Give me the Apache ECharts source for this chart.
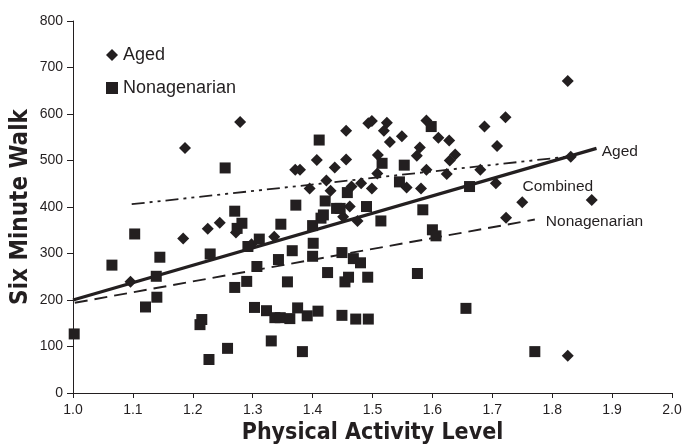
<!DOCTYPE html>
<html>
<head>
<meta charset="utf-8">
<script src="https://cdn.jsdelivr.net/npm/echarts@6/dist/echarts.min.js"></script>
<style>
  html, body { margin: 0; padding: 0; background: #fff; }
  #chart { width: 683px; height: 445px; }
</style>
</head>
<body>
<div id="chart"></div>
<script>
// Aged subjects [PAL, six minute walk (m)]
var aged = [
  [1.096, 239], [1.184, 332], [1.187, 527], [1.225, 353], [1.245, 366],
  [1.272, 345], [1.279, 583], [1.298, 320], [1.336, 336], [1.371, 480],
  [1.379, 480], [1.395, 440], [1.407, 501], [1.423, 457], [1.430, 435],
  [1.437, 485], [1.451, 379], [1.456, 502], [1.456, 564], [1.462, 401],
  [1.465, 444], [1.475, 370], [1.481, 451], [1.493, 580], [1.499, 585],
  [1.499, 440], [1.508, 472], [1.509, 512], [1.519, 564], [1.524, 581],
  [1.529, 540], [1.549, 552], [1.557, 442], [1.574, 510], [1.579, 528],
  [1.581, 440], [1.590, 480], [1.590, 586], [1.610, 549], [1.624, 471],
  [1.628, 543], [1.629, 500], [1.638, 513], [1.680, 480], [1.687, 573],
  [1.706, 451], [1.708, 531], [1.722, 593], [1.723, 377], [1.750, 410],
  [1.826, 671], [1.826, 80], [1.831, 508], [1.866, 415]
];

// Nonagenarian subjects
var nonagenarian = [
  [1.002, 127], [1.065, 275], [1.103, 342], [1.121, 185], [1.139, 251],
  [1.140, 206], [1.145, 292], [1.212, 147], [1.215, 158], [1.227, 72],
  [1.229, 299], [1.254, 484], [1.258, 96], [1.270, 391], [1.270, 227],
  [1.274, 354], [1.282, 365], [1.290, 240], [1.292, 315], [1.303, 184],
  [1.307, 272], [1.311, 331], [1.323, 177], [1.331, 112], [1.337, 162],
  [1.343, 287], [1.346, 162], [1.347, 363], [1.358, 239], [1.362, 160],
  [1.366, 306], [1.372, 404], [1.375, 183], [1.383, 89], [1.391, 166],
  [1.400, 360], [1.400, 294], [1.401, 322], [1.409, 176], [1.411, 544],
  [1.414, 376], [1.418, 383], [1.421, 413], [1.425, 259], [1.440, 397],
  [1.446, 397], [1.449, 302], [1.449, 167], [1.454, 239], [1.458, 431],
  [1.460, 249], [1.468, 289], [1.472, 159], [1.480, 280], [1.490, 401],
  [1.492, 249], [1.493, 159], [1.514, 370], [1.516, 494], [1.545, 454],
  [1.553, 490], [1.575, 257], [1.584, 394], [1.598, 573], [1.600, 351],
  [1.606, 338], [1.656, 182], [1.662, 444], [1.771, 89]
];

// regression lines (start / end)
var agedFit = [[1.098, 406], [1.831, 509]];
var combinedFit = [[1.0, 200], [1.874, 526]];
var nonagenarianFit = [[1.003, 194], [1.771, 373]];

var xTicks = ['1.0', '1.1', '1.2', '1.3', '1.4', '1.5', '1.6', '1.7', '1.8', '1.9', '2.0'];

var ink = '#231f20';
var font = '"Liberation Sans", Arial, sans-serif';
var titleFont = '"DejaVu Sans Condensed", "Liberation Sans Narrow", sans-serif';

var myChart = echarts.init(document.getElementById('chart'));

var option = {
    animation: false,
    textStyle: { fontFamily: font, color: ink },
    grid: { left: 73, right: 11, top: 21, bottom: 52, outerBoundsMode: 'none', containLabel: false },
    legend: {
        data: [
            { name: 'Aged', icon: 'diamond' },
            { name: 'Nonagenarian', icon: 'rect' }
        ],
        orient: 'vertical',
        left: 101,
        top: 41,
        itemWidth: 12,
        itemHeight: 12,
        itemGap: 15,
        textStyle: { fontSize: 18, color: ink, fontFamily: font }
    },
    xAxis: {
        type: 'value',
        min: 1.0,
        max: 2.0,
        interval: 0.1,
        name: 'Physical Activity Level',
        nameLocation: 'middle',
        nameGap: 25,
        nameTextStyle: { fontSize: 23, fontWeight: 'bold', color: ink, fontFamily: titleFont },
        axisLine: { lineStyle: { color: ink, width: 1 } },
        axisTick: { show: true, length: 5, lineStyle: { color: ink } },
        axisLabel: {
            fontSize: 14, color: ink, margin: 10,
            formatter: function (v) { return xTicks[Math.round((v - 1) * 10)]; }
        },
        splitLine: { show: false }
    },
    yAxis: {
        type: 'value',
        min: 0,
        max: 800,
        interval: 100,
        name: 'Six Minute Walk',
        nameLocation: 'middle',
        nameGap: 40,
        nameMoveOverlap: false,
        nameTextStyle: { fontSize: 24, fontWeight: 'bold', color: ink, fontFamily: titleFont },
        axisLine: { show: true, lineStyle: { color: ink, width: 1 } },
        axisTick: { show: true, length: 6, lineStyle: { color: ink } },
        axisLabel: { fontSize: 14, color: ink, margin: 10 },
        splitLine: { show: false }
    },
    series: [
        {
            name: 'Aged fit',
            type: 'line',
            data: agedFit,
            symbol: 'none',
            lineStyle: { color: ink, width: 1.8, type: [13, 5, 3, 5, 3, 5] },
            endLabel: {
                show: true, formatter: 'Aged', fontSize: 15.5, color: ink,
                distance: 0, offset: [31, -5]
            },
            z: 3
        },
        {
            name: 'Combined fit',
            type: 'line',
            data: combinedFit,
            symbol: 'none',
            lineStyle: { color: ink, width: 3.2 },
            endLabel: {
                show: true, formatter: 'Combined', fontSize: 15.5, color: ink,
                distance: 0, offset: [-74, 38]
            },
            z: 3
        },
        {
            name: 'Nonagenarian fit',
            type: 'line',
            data: nonagenarianFit,
            symbol: 'none',
            lineStyle: { color: ink, width: 1.9, type: [13, 7] },
            endLabel: {
                show: true, formatter: 'Nonagenarian', fontSize: 15.5, color: ink,
                distance: 0, offset: [11, 2]
            },
            z: 3
        },
        {
            name: 'Aged',
            type: 'scatter',
            data: aged,
            symbol: 'diamond',
            symbolSize: 12,
            itemStyle: { color: ink, opacity: 1 },
            z: 4
        },
        {
            name: 'Nonagenarian',
            type: 'scatter',
            data: nonagenarian,
            symbol: 'rect',
            symbolSize: 11,
            itemStyle: { color: ink, opacity: 1 },
            z: 4
        }
    ]
};

myChart.setOption(option);
</script>
</body>
</html>
